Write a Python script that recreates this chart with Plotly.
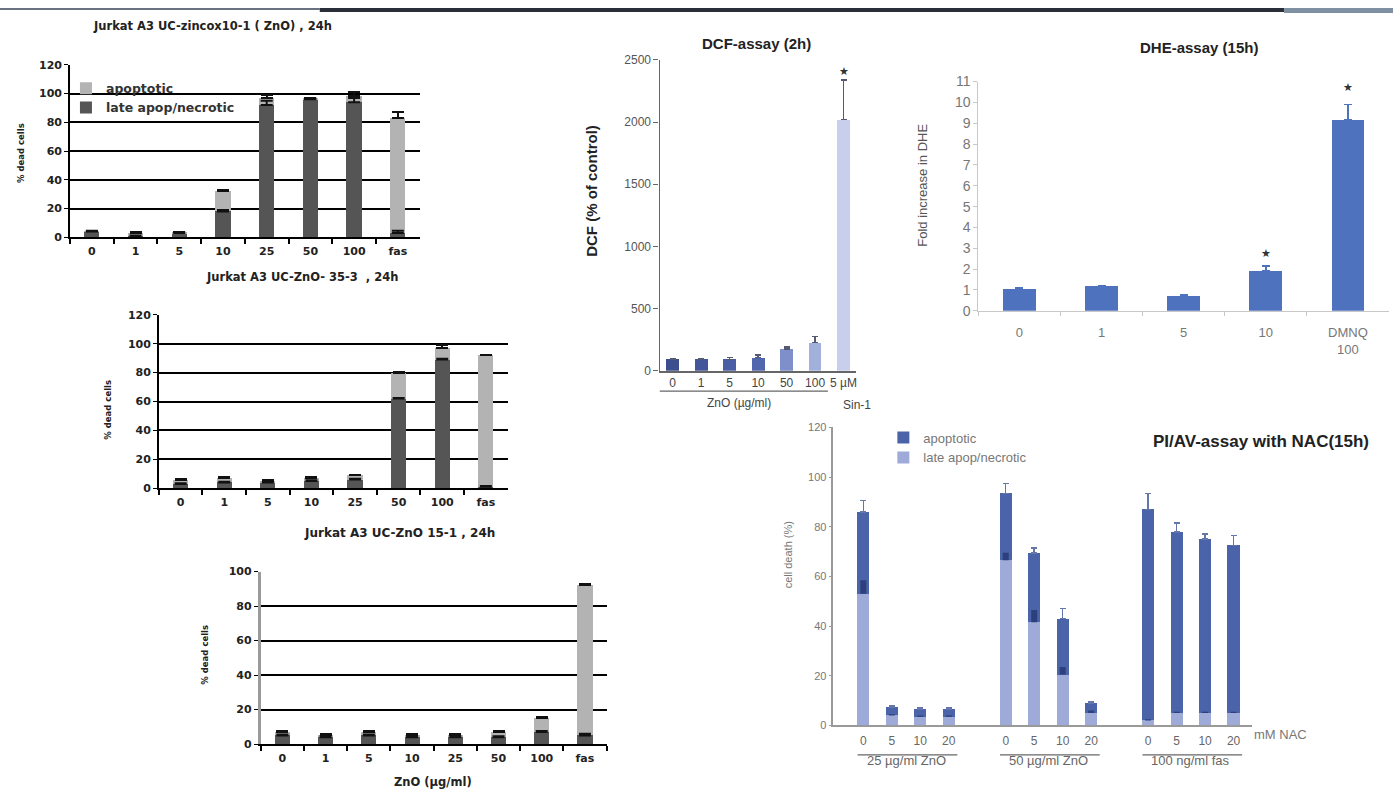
import plotly.graph_objects as go

W, H = 1394, 803
FONT = "Liberation Sans, Arial, sans-serif"
FONT_L = "DejaVu Sans, Verdana, sans-serif"

# ---------------- data ----------------
zno_cats = ["0", "1", "5", "10", "25", "50", "100", "fas"]

# Panel 1: Jurkat A3 UC-zincox10-1 (ZnO), 24h
p1_late = [4, 1, 3, 18, 92, 96, 94, 3]
p1_apop = [0.3, 2, 0.5, 14, 5, 0.5, 4, 80]
p1_late_err = [0.5, 0.3, 0.5, 1, 3, 0.5, 3, 1.5]
p1_apop_err = [0.3, 0.5, 0.5, 1, 2, 0.5, 3, 4]

# Panel 2: Jurkat A3 UC-ZnO-35-3, 24h
p2_late = [3, 4, 4, 5, 6, 62, 89, 1]
p2_apop = [3, 3, 1, 2, 3, 18, 8, 91]
p2_late_err = [0.5, 0.5, 0.5, 0.5, 0.5, 0.5, 0.5, 0.5]
p2_apop_err = [0.5, 0.5, 0.5, 0.5, 0.5, 0.5, 2, 0.5]

# Panel 3: Jurkat A3 UC-ZnO 15-1, 24h
p3_late = [5, 4, 5, 4, 4, 4, 7, 5]
p3_apop = [2, 1.5, 2, 1.5, 1.5, 3, 8, 87]
p3_late_err = [0.5, 0.5, 0.5, 0.5, 0.5, 0.5, 0.5, 1]
p3_apop_err = [0.5, 0.5, 0.5, 0.5, 0.5, 0.5, 0.5, 0.5]

# DCF assay (2h)
dcf_cats = ["0", "1", "5", "10", "50", "100", "5 µM"]
dcf_vals = [90, 90, 90, 105, 175, 225, 2020]
dcf_err = [8, 8, 15, 20, 15, 50, 320]
dcf_colors = ["#3c4e8e", "#43569a", "#4a5ea6", "#5266ae", "#7e8fc9", "#a4b0dc", "#c8cfec"]

# DHE assay (15h)
dhe_cats = ["0", "1", "5", "10", "DMNQ<br>100"]
dhe_vals = [1.03, 1.17, 0.70, 1.93, 9.17]
dhe_err = [0.07, 0.04, 0.05, 0.23, 0.73]

# PI/AV assay with NAC (15h)
nac_levels = ["0", "5", "10", "20"]
nac_groups = ["25 µg/ml ZnO", "50 µg/ml ZnO", "100 ng/ml fas"]
p6_late = [53, 4, 3.5, 3.5, 66.5, 41.5, 20.5, 5, 2, 5, 5, 5]
p6_apop = [33, 3.5, 3, 3, 27, 28, 22.5, 4, 85, 73, 70, 67.5]
p6_late_err = [5.5, 0.5, 0.5, 0.5, 3, 5, 3, 1, 0.5, 0.5, 0.5, 0.5]
p6_apop_err = [4.5, 0.5, 0.5, 0.5, 4, 2, 4, 0.5, 6.5, 3.5, 2, 4]

# ---------------- helpers ----------------
def xd(a, b):
    return [a / W, b / W]

def yd(top, bottom):
    return [1 - bottom / H, 1 - top / H]

def px(xp):
    return xp / W

def py(yp):
    return 1 - yp / H

LIGHT_GRAY = "#b3b3b3"
DARK_GRAY = "#555555"

fig = go.Figure()

def err_overlay(x, y, err, xa, ya, color, thickness, width):
    # error bars of the lower stacked series, drawn on top so they stay visible
    return go.Scatter(x=x, y=y, xaxis=xa, yaxis=ya, mode="markers",
                      marker=dict(size=1, color="rgba(0,0,0,0)"),
                      showlegend=False, hoverinfo="skip",
                      error_y=dict(type="data", array=err, arrayminus=[0] * len(err),
                                   symmetric=False, color=color,
                                   thickness=thickness, width=width))

# left gray panels
panels = [
    (p1_late, p1_apop, p1_late_err, p1_apop_err, "x", "y", True),
    (p2_late, p2_apop, p2_late_err, p2_apop_err, "x2", "y2", False),
    (p3_late, p3_apop, p3_late_err, p3_apop_err, "x3", "y3", False),
]
for late, apop, le, ae, xa, ya, show in panels:
    fig.add_trace(go.Bar(
        x=zno_cats, y=late, name="late apop/necrotic", xaxis=xa, yaxis=ya,
        marker=dict(color=DARK_GRAY, line=dict(width=0)), width=0.35,
        legendgroup="la", showlegend=show,
    ))
    fig.add_trace(go.Bar(
        x=zno_cats, y=apop, name="apoptotic", xaxis=xa, yaxis=ya,
        marker=dict(color=LIGHT_GRAY, line=dict(width=0)), width=0.35,
        legendgroup="ap", showlegend=show,
        error_y=dict(type="data", array=ae, arrayminus=[0] * len(ae), symmetric=False,
                     color="#111111", thickness=2, width=6),
    ))
    fig.add_trace(err_overlay(zno_cats, late, le, xa, ya, "#111111", 2, 6))

# DCF
fig.add_trace(go.Bar(
    x=dcf_cats, y=dcf_vals, xaxis="x4", yaxis="y4", showlegend=False,
    marker=dict(color=dcf_colors, line=dict(width=0)), width=0.45,
    error_y=dict(type="data", array=dcf_err, arrayminus=[0] * len(dcf_err), symmetric=False,
                 color="#555a70", thickness=1.5, width=3),
))

# DHE
fig.add_trace(go.Bar(
    x=dhe_cats, y=dhe_vals, xaxis="x5", yaxis="y5", showlegend=False,
    marker=dict(color="#4f72be", line=dict(width=0)), width=0.4,
    error_y=dict(type="data", array=dhe_err, arrayminus=[0] * len(dhe_err), symmetric=False,
                 color="#4f72be", thickness=1.5, width=4),
))

# PI/AV with NAC
p6_x = [g * 5 + i for g in range(len(nac_groups)) for i in range(len(nac_levels))]
fig.add_trace(go.Bar(
    x=p6_x, y=p6_late, name="late apop/necrotic", xaxis="x6", yaxis="y6",
    marker=dict(color="#9eabd9", line=dict(width=0)), width=0.43,
    legend="legend2", legendgroup="la6",
))
fig.add_trace(go.Bar(
    x=p6_x, y=p6_apop, name="apoptotic", xaxis="x6", yaxis="y6",
    marker=dict(color="#4a63a9", line=dict(width=0)), width=0.43,
    legend="legend2", legendgroup="ap6",
    error_y=dict(type="data", array=p6_apop_err, arrayminus=[0] * 12, symmetric=False,
                 color="#6577aa", thickness=1.5, width=3),
))
fig.add_trace(err_overlay(p6_x, p6_late, p6_late_err, "x6", "y6", "#2d3f7c", 6, 0))

# ---------------- axes ----------------
left_tick = dict(size=11, color="#222222", family=FONT_L, weight="bold")

def left_x(domain, anchor):
    return dict(domain=domain, anchor=anchor, type="category", range=[-0.5, 7.5],
                showline=True, linecolor="black", linewidth=1.5, ticks="outside",
                tickson="boundaries", ticklen=5, tickwidth=1.5, tickcolor="black",
                tickfont=left_tick, ticklabelstandoff=3, showgrid=False, zeroline=False)

def left_y(domain, anchor, rng, linecolor="black", lw=1.5):
    return dict(domain=domain, anchor=anchor, range=rng, dtick=20, showgrid=True,
                gridcolor="black", gridwidth=1.5, showline=True, linecolor=linecolor,
                linewidth=lw, ticks="outside", ticklen=4, tickcolor="black",
                tickfont=left_tick, zeroline=False)

layout = dict(
    width=W, height=H, margin=dict(l=0, r=0, t=0, b=0),
    paper_bgcolor="white", plot_bgcolor="rgba(0,0,0,0)",
    barmode="stack", font=dict(family=FONT),
    xaxis=left_x(xd(70, 420), "y"),
    yaxis=left_y(yd(58, 234), "x", [0, 120]),
    xaxis2=left_x(xd(159, 508), "y2"),
    yaxis2=left_y(yd(313, 490), "x2", [0, 120]),
    xaxis3=left_x(xd(261, 607), "y3"),
    yaxis3=left_y(yd(575, 751), "x3", [0, 100], linecolor="#9a9a9a", lw=3),
    xaxis4=dict(domain=xd(660, 857), anchor="y4", type="category", range=[-0.46, 6.45],
                showline=True, linecolor="#666666", linewidth=1.5, ticks="",
                tickfont=dict(size=12, color="#444444", family=FONT), showgrid=False),
    yaxis4=dict(domain=yd(53, 370), anchor="x4", range=[0, 2500], dtick=500,
                showline=True, linecolor="#666666", linewidth=1.2, ticks="outside",
                ticklen=5, tickcolor="#666666", showgrid=False, zeroline=False,
                tickfont=dict(size=12, color="#555555", family=FONT)),
    xaxis5=dict(domain=xd(979, 1390), anchor="y5", type="category", range=[-0.5, 4.5],
                showline=True, linecolor="#c8c8c8", linewidth=1, ticks="outside",
                tickson="boundaries", ticklen=4, tickcolor="#c8c8c8", ticklabelstandoff=10,
                tickfont=dict(size=13, color="#777777", family=FONT), showgrid=False),
    yaxis5=dict(domain=yd(75, 309), anchor="x5", range=[0, 11], dtick=1,
                showline=True, linecolor="#c8c8c8", linewidth=1, ticks="outside",
                ticklen=4, tickcolor="#c8c8c8", showgrid=False, zeroline=False,
                tickfont=dict(size=14, color="#777777", family=FONT)),
    xaxis6=dict(domain=xd(834, 1253), anchor="y6", range=[-1.05, 13.65],
                tickvals=p6_x, ticktext=nac_levels * len(nac_groups),
                showline=True, linecolor="#9a9a9a", linewidth=1.5, ticks="",
                ticklabelstandoff=3,
                tickfont=dict(size=12, color="#666666", family=FONT), showgrid=False,
                zeroline=False),
    yaxis6=dict(domain=yd(428, 732), anchor="x6", range=[0, 120], dtick=20,
                showline=True, linecolor="#9a9a9a", linewidth=1.5, ticks="outside",
                ticklen=3, tickcolor="#9a9a9a", showgrid=False, zeroline=False,
                tickfont=dict(size=11, color="#777777", family=FONT)),
    legend=dict(x=px(66), y=py(67), xanchor="left", yanchor="top",
                bgcolor="rgba(0,0,0,0)", traceorder="reversed", itemwidth=30,
                tracegroupgap=9, font=dict(size=12.5, color="#333333", family=FONT_L, weight="bold")),
    legend2=dict(x=px(884), y=py(423), xanchor="left", yanchor="top",
                 bgcolor="rgba(0,0,0,0)", traceorder="reversed", itemwidth=30,
                 tracegroupgap=12, font=dict(size=13, color="#777777", family=FONT)),
)
fig.update_layout(**layout)

# ---------------- annotations ----------------
ann = []

def A(text, x, y, size=10, color="#222222", bold=False, angle=0, family=FONT,
      xanchor="center", yanchor="middle"):
    ann.append(dict(text=text, x=px(x), y=py(y), xref="paper", yref="paper",
                    showarrow=False, textangle=angle, xanchor=xanchor, yanchor=yanchor,
                    font=dict(size=size, color=color, family=family,
                              weight="bold" if bold else "normal")))

# left panel titles
A("Jurkat A3 UC-zincox10-1 ( ZnO) , 24h", 213, 18, size=11.5, bold=True, family=FONT_L)
A("Jurkat A3 UC-ZnO- 35-3  , 24h", 302, 274, size=11.5, bold=True, family=FONT_L)
A("Jurkat A3 UC-ZnO 15-1 , 24h", 400, 536, size=12, bold=True, family=FONT_L)
A("% dead cells", 21, 148, size=8.5, bold=True, angle=-90, family=FONT_L)
A("% dead cells", 108, 410, size=8.5, bold=True, angle=-90, family=FONT_L)
A("% dead cells", 205, 660, size=8.5, bold=True, angle=-90, family=FONT_L)
A("ZnO (µg/ml)", 433, 790, size=11.5, bold=True, family=FONT_L)

# DCF
A("DCF-assay (2h)", 757, 36, size=15, bold=True, color="#222222")
A("DCF (% of control)", 592, 187, size=15, bold=True, angle=-90, color="#222222")
A("Sin-1", 858, 405, size=12, color="#444444")
A("ZnO (µg/ml)", 740, 403, size=12, color="#444444")

# DHE
A("DHE-assay (15h)", 1200, 40, size=15, bold=True, color="#222222")
A("Fold increase in DHE", 923, 181, size=13, angle=-90, color="#555555")

# PI/AV
A("PI/AV-assay with NAC(15h)", 1262, 442, size=17, bold=True, color="#222222")
A("cell death (%)", 788, 558, size=11, angle=-90, color="#777777")
A("mM NAC", 1281, 741, size=13, color="#777777")
for g, name in enumerate(nac_groups):
    ann.append(dict(text=name, x=g * 5 + 1.5, y=py(778), xref="x6", yref="paper",
                    showarrow=False, font=dict(size=13, color="#666666", family=FONT)))

# stars on significant bars
for xa, ya, idx, yv in [("x4", "y4", 6, dcf_vals[6] + dcf_err[6] + 70),
                        ("x5", "y5", 3, dhe_vals[3] + dhe_err[3] + 0.6),
                        ("x5", "y5", 4, dhe_vals[4] + dhe_err[4] + 0.85)]:
    ann.append(dict(text="★", x=idx, y=yv, xref=xa, yref=ya, showarrow=False,
                    font=dict(size=11, color="#333333", family=FONT)))

fig.update_layout(annotations=ann)

# ---------------- shapes ----------------
shapes = [
    # slide strip at top
    dict(type="rect", xref="paper", yref="paper", x0=0, x1=px(320), y0=py(2), y1=1,
         fillcolor="#6a7282", line=dict(width=0)),
    dict(type="rect", xref="paper", yref="paper", x0=px(320), x1=px(1285), y0=py(4), y1=1,
         fillcolor="#2a2e38", line=dict(width=0)),
    dict(type="rect", xref="paper", yref="paper", x0=px(1285), x1=1, y0=py(5), y1=1,
         fillcolor="#8090a3", line=dict(width=0)),
    # DCF ZnO bracket
    dict(type="line", xref="x4", yref="paper", x0=-0.46, x1=5.45, y0=py(391), y1=py(391),
         line=dict(color="#666666", width=1.2)),
]
for g in range(len(nac_groups)):
    shapes.append(dict(type="line", xref="x6", yref="paper", x0=g * 5 - 0.2, x1=g * 5 + 3.3,
                       y0=py(762), y1=py(762), line=dict(color="#666666", width=1.2)))
fig.update_layout(shapes=shapes)

fig.write_html("out.html",
               post_script="document.body.style.margin='0px';document.body.style.overflow='hidden';")
